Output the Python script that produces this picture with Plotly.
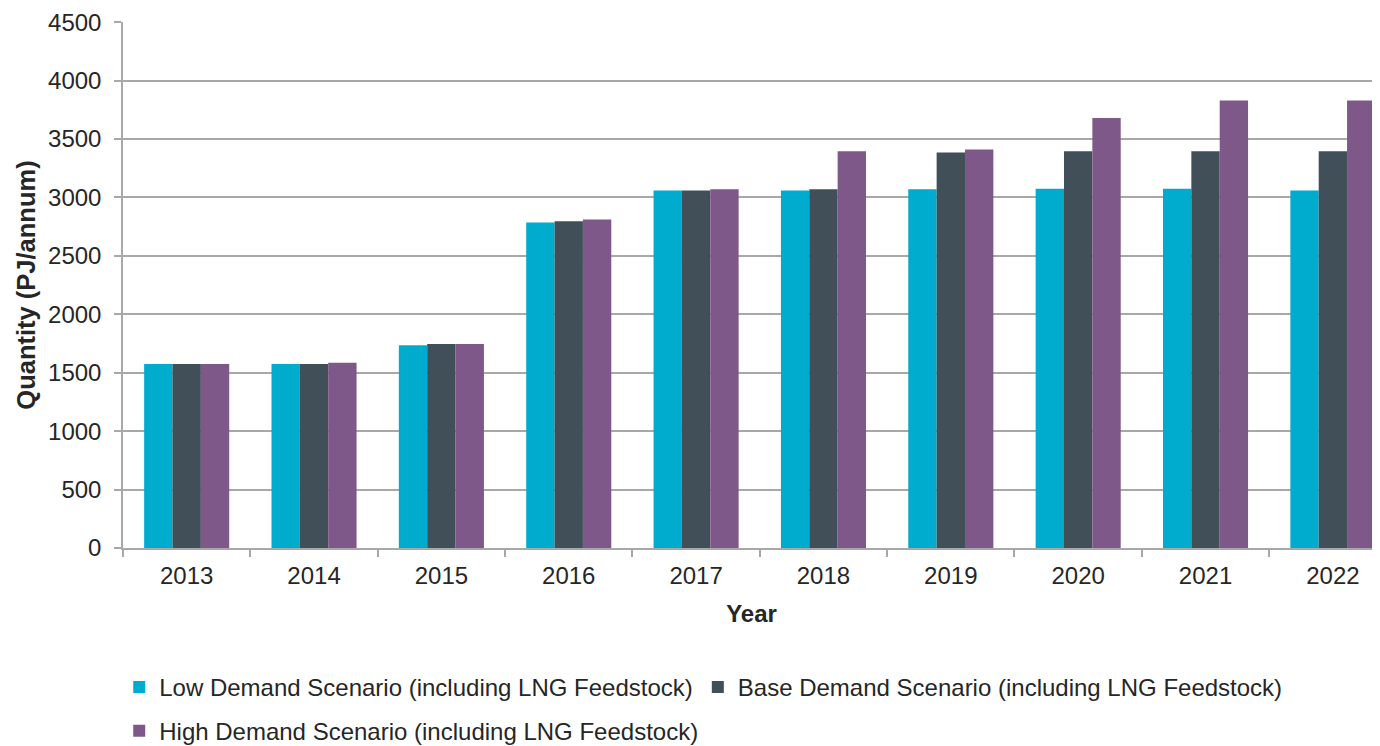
import plotly.graph_objects as go

years = ["2013", "2014", "2015", "2016", "2017", "2018", "2019", "2020", "2021", "2022"]
low_demand = [1575, 1575, 1735, 2785, 3060, 3060, 3070, 3075, 3075, 3060]
base_demand = [1575, 1575, 1745, 2795, 3060, 3070, 3385, 3395, 3395, 3395]
high_demand = [1575, 1585, 1745, 2810, 3070, 3395, 3410, 3680, 3830, 3830]

names = [
    "Low Demand Scenario (including LNG Feedstock)",
    "Base Demand Scenario (including LNG Feedstock)",
    "High Demand Scenario (including LNG Feedstock)",
]
colors = ["#00ACCD", "#414F58", "#7E5888"]
font = "Arial, Liberation Sans, sans-serif"

fig = go.Figure()
for vals, name, col, leg in zip(
    [low_demand, base_demand, high_demand], names, colors, ["legend", "legend", "legend2"]
):
    fig.add_trace(go.Bar(x=years, y=vals, name=name, marker_color=col,
                         marker_line_width=0, legend=leg))

grid = "#A8A8A8"
# page body has an 8px margin, so the figure is sized/offset to make up for it
fig.update_layout(
    width=1372,
    height=738,
    margin=dict(l=115, r=0, t=14, b=198, autoexpand=False),
    plot_bgcolor="white",
    paper_bgcolor="white",
    font=dict(family=font, size=24, color="#262626"),
    barmode="group",
    bargap=0.332,
    bargroupgap=0,
    legend=dict(orientation="h", x=-0.003, xanchor="left", y=-0.265, yanchor="middle",
                font=dict(size=24), itemwidth=30),
    legend2=dict(orientation="h", x=-0.003, xanchor="left", y=-0.348, yanchor="middle",
                 font=dict(size=24), itemwidth=30),
)
fig.update_xaxes(
    range=[-0.5, 9.37], automargin=False,
    showline=True, linecolor=grid, linewidth=1.5,
    ticks="outside", tickson="boundaries", ticklen=7, tickcolor=grid, tickwidth=1.5,
    ticklabelstandoff=5,
    title=dict(text="<b>Year</b>", font=dict(size=24), standoff=18),
)
fig.update_yaxes(
    range=[0, 4501], dtick=500, automargin=False,
    showgrid=True, gridcolor=grid, gridwidth=1.5,
    showline=True, linecolor=grid, linewidth=1.5,
    ticks="outside", ticklen=7, tickcolor=grid, tickwidth=1.5,
    ticklabelstandoff=8,
    zeroline=False,
    title=dict(text="<b>Quantity (PJ/annum)</b>", font=dict(size=25.5), standoff=5),
)

fig.write_html("out.html")
